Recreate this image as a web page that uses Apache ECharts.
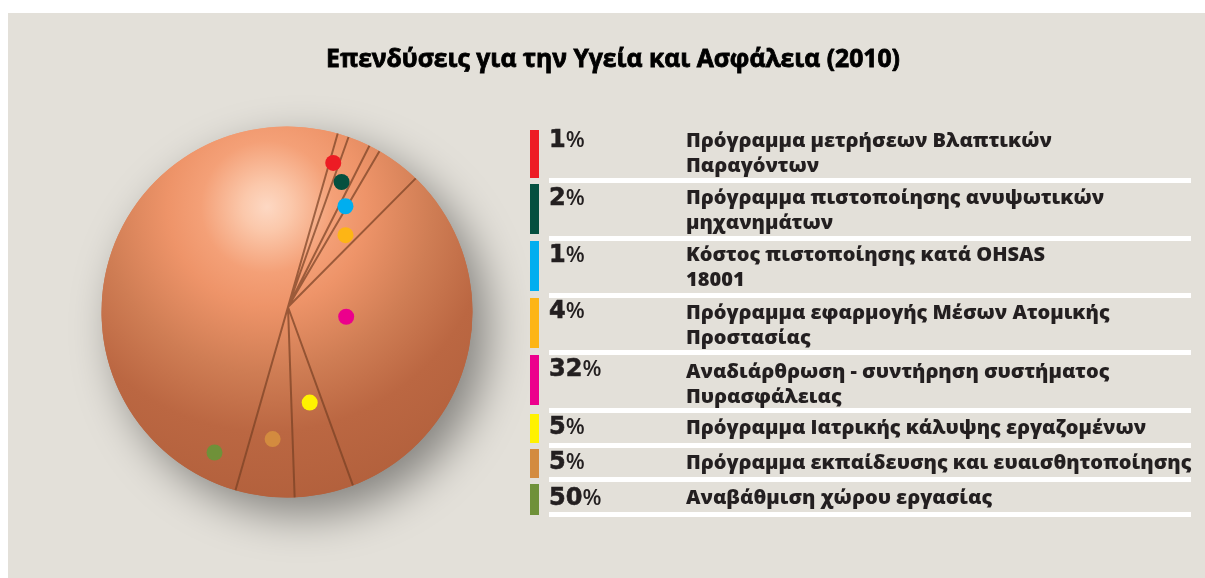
<!DOCTYPE html>
<html>

<head>
    <meta charset="utf-8">
    <title>ECharts</title>
    <script src="https://cdn.jsdelivr.net/npm/echarts@6/dist/echarts.min.js"></script>
    <style>
        * {
            margin: 0;
            padding: 0;
        }
    </style>
</head>

<body>
    <div id="main" style="width: 1205px; height: 578px;"></div>
    <script type="text/javascript">
        var titleText = 'Επενδύσεις για την Υγεία και Ασφάλεια (2010)';
        var labels = [
            'Πρόγραμμα μετρήσεων Βλαπτικών\nΠαραγόντων',
            'Πρόγραμμα πιστοποίησης ανυψωτικών\nμηχανημάτων',
            'Κόστος πιστοποίησης κατά OHSAS\n18001',
            'Πρόγραμμα εφαρμογής Μέσων Ατομικής\nΠροστασίας',
            'Αναδιάρθρωση - συντήρηση συστήματος\nΠυρασφάλειας',
            'Πρόγραμμα Ιατρικής κάλυψης εργαζομένων',
            'Πρόγραμμα εκπαίδευσης και ευαισθητοποίησης',
            'Αναβάθμιση χώρου εργασίας'
        ];
        var values = [1, 2, 1, 4, 32, 5, 5, 50];
        var colors = ['#ed1c24', '#05503f', '#00aeef', '#fdb515', '#ec008c', '#fff200', '#d38b3f', '#6f9139'];
        // where the marker dot sits: share along the pie (%) and distance from the apex
        var dotShares = [0.4, 2, 3.8, 6.3, 23.2, 42, 47.4, 53];
        var dotRadius = [151, 136, 116, 92, 59, 98, 133, 163];

        // legend layout, pixels
        var barTops = [130, 184, 241, 298, 355, 414, 449, 484];
        var barBottoms = [178, 234, 291, 348, 405, 443, 478, 515];
        var ruleTops = [178, 236, 293, 350, 408, 443, 477, 512];
        var numberMids = [141, 199, 256, 312, 370, 428, 463, 499];
        var labelMids = [141, 198, 255, 313, 372, 428, 463, 498];

        var discX = 287, discY = 312, discR = 185.5;
        var apexX = 288, apexY = 307;

        var sphere = {
            type: 'radial', x: 267, y: 207, r: 300, global: true,
            colorStops: [
                { offset: 0, color: '#fdd8c3' },
                { offset: 0.08, color: '#fbc8ab' },
                { offset: 0.22, color: '#f4a077' },
                { offset: 0.33, color: '#ee9469' },
                { offset: 0.55, color: '#cf7d54' },
                { offset: 0.75, color: '#bb6742' },
                { offset: 1, color: '#b2603c' }
            ]
        };

        // distance from the apex to the rim of the disc in a given direction
        function rimRadius(share) {
            var a = (16 + share * 3.6) * Math.PI / 180;
            var ux = Math.sin(a), uy = -Math.cos(a);
            var ox = apexX - discX, oy = apexY - discY;
            var b = ox * ux + oy * uy;
            return -b + Math.sqrt(b * b - (ox * ox + oy * oy - discR * discR));
        }

        var seamData = [];
        var sum = 0;
        values.forEach(function (v) {
            seamData.push([0, sum], [rimRadius(sum), sum], ['-', '-']);
            sum += v;
        });

        var dotData = values.map(function (v, i) {
            return { value: [dotRadius[i], dotShares[i]], itemStyle: { color: colors[i], opacity: 1 } };
        });

        var legendItems = [];
        labels.forEach(function (label, i) {
            legendItems.push({
                type: 'rect', silent: true,
                shape: { x: 530, y: barTops[i], width: 9, height: barBottoms[i] - barTops[i] },
                style: { fill: colors[i] }
            });
            legendItems.push({
                type: 'rect', silent: true,
                shape: { x: 549, y: ruleTops[i], width: 642, height: 5 },
                style: { fill: '#ffffff' }
            });
            legendItems.push({
                type: 'text', silent: true, x: 549, y: numberMids[i],
                style: {
                    text: '{n|' + values[i] + '}{p|%}',
                    verticalAlign: 'middle',
                    rich: {
                        n: {
                            fontFamily: 'DejaVu Sans', fontWeight: 700, fontSize: 24, fill: '#231f20',
                            stroke: '#231f20', lineWidth: 0.6
                        },
                        p: { fontFamily: 'Open Sans', fontWeight: 600, fontSize: 22, fill: '#231f20' }
                    }
                }
            });
            legendItems.push({
                type: 'text', silent: true, x: 686, y: labelMids[i] - 12.5,
                style: {
                    text: label, fill: '#231f20',
                    fontFamily: 'Open Sans', fontWeight: 800, fontSize: 20, lineHeight: 25
                }
            });
        });

        var myChart = echarts.init(document.getElementById('main'));
        var option = {
            backgroundColor: '#ffffff',
            animation: false,
            title: {
                text: titleText,
                left: 608,
                top: 42,
                textAlign: 'center',
                textStyle: {
                    fontFamily: 'Open Sans', fontWeight: 700, fontSize: 24.7, color: '#000000',
                    textBorderColor: '#000000', textBorderWidth: 0.8
                }
            },
            polar: { center: [apexX, apexY], radius: 200 },
            angleAxis: { type: 'value', min: 0, max: 100, startAngle: 74, show: false },
            radiusAxis: { type: 'value', min: 0, max: 200, show: false },
            graphic: {
                elements: [
                    {
                        type: 'rect', z: -20, silent: true,
                        shape: { x: 8, y: 13, width: 1197, height: 565 },
                        style: { fill: '#e3e0d9' }
                    },
                    {
                        type: 'circle', z: -10, silent: true,
                        shape: { cx: discX, cy: discY, r: discR },
                        style: {
                            fill: sphere,
                            shadowBlur: 45, shadowOffsetX: 15, shadowOffsetY: 17,
                            shadowColor: 'rgba(0,0,0,0.42)'
                        }
                    }
                ].concat(legendItems)
            },
            series: [
                {
                    type: 'pie',
                    center: [discX, discY],
                    radius: discR,
                    startAngle: 74,
                    silent: true,
                    label: { show: false },
                    labelLine: { show: false },
                    itemStyle: { color: sphere },
                    data: values.map(function (v, i) {
                        return { value: v, name: labels[i] };
                    })
                },
                {
                    type: 'line',
                    coordinateSystem: 'polar',
                    silent: true,
                    showSymbol: false,
                    z: 3,
                    lineStyle: { color: 'rgba(120,64,36,0.7)', width: 2 },
                    data: seamData
                },
                {
                    type: 'scatter',
                    coordinateSystem: 'polar',
                    silent: true,
                    symbolSize: 16,
                    z: 4,
                    data: dotData
                }
            ]
        };
        myChart.setOption(option);
    </script>
</body>

</html>
